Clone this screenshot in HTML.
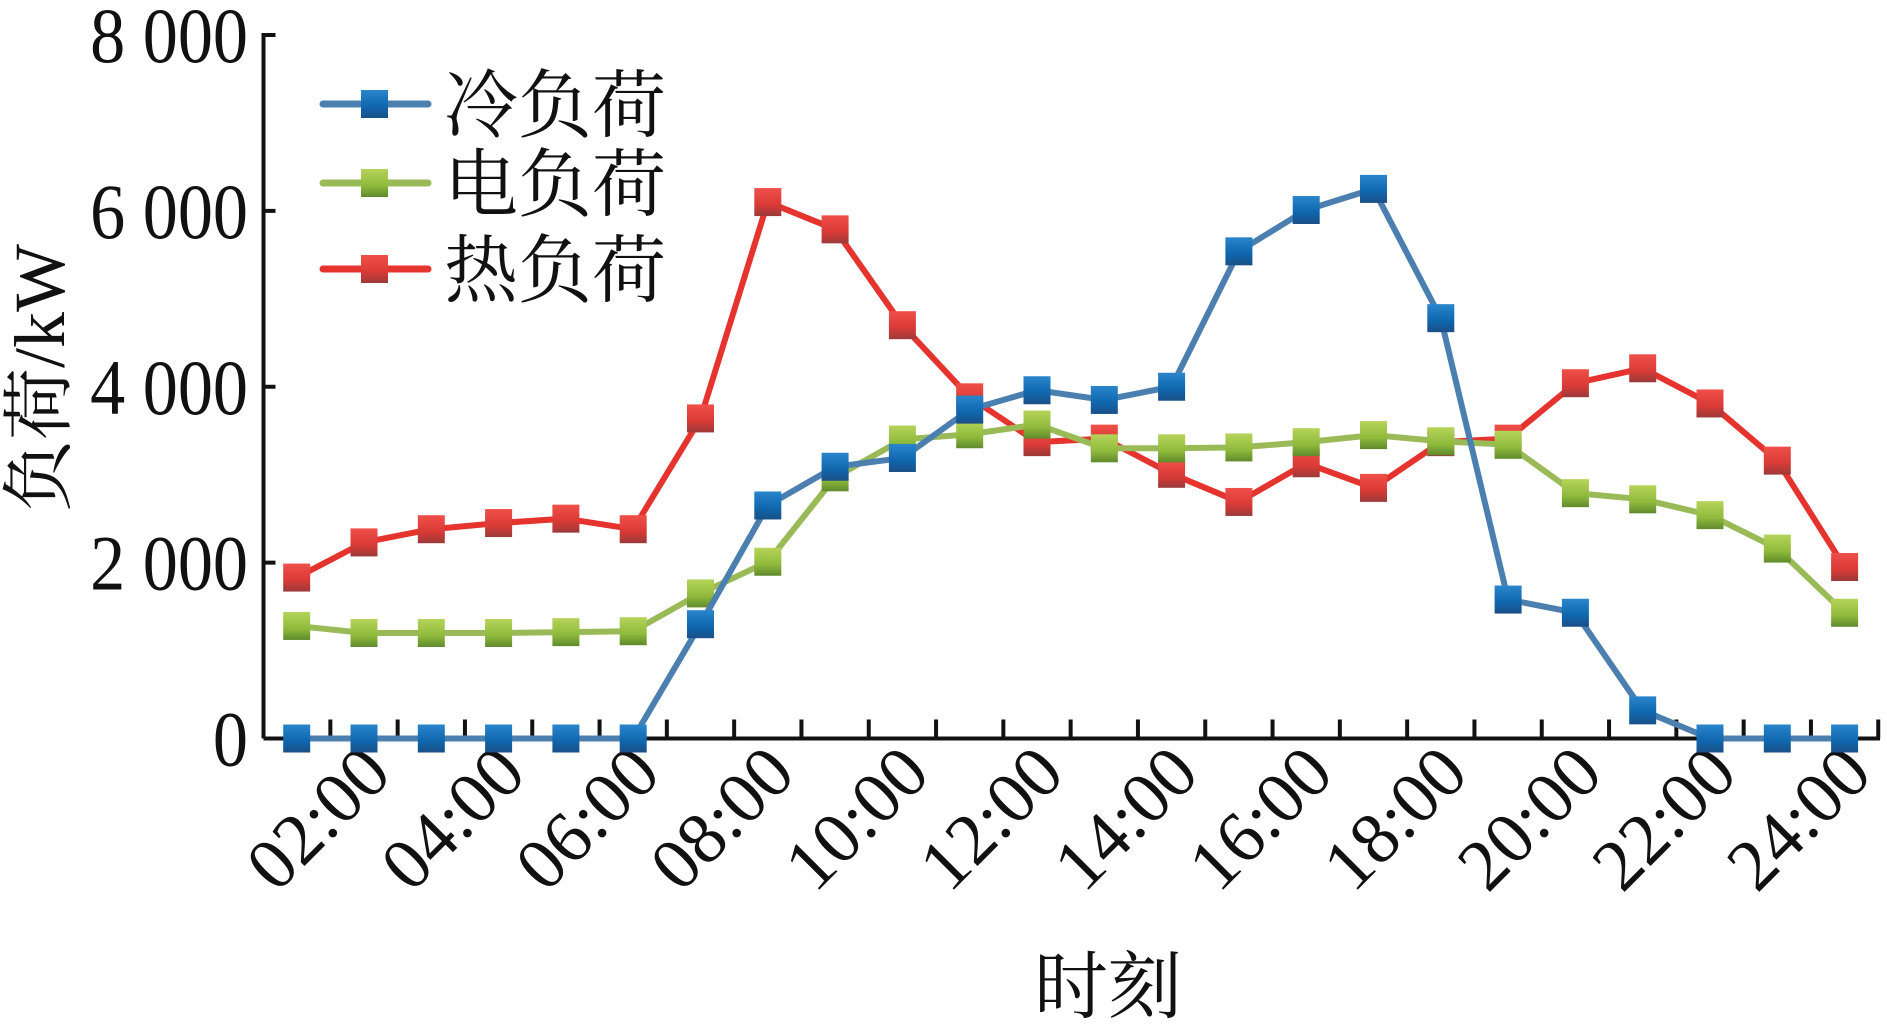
<!DOCTYPE html>
<html><head><meta charset="utf-8">
<style>
html,body{margin:0;padding:0;background:#fff;}
svg{display:block;}
</style></head>
<body>
<svg id="chart" width="1887" height="1027" viewBox="0 0 1887 1027" xmlns="http://www.w3.org/2000/svg">
<defs>
<linearGradient id="gBlue" x1="0" y1="0" x2="0" y2="1">
<stop offset="0" stop-color="#2a86cc"/><stop offset="0.6" stop-color="#0f66ad"/><stop offset="1" stop-color="#1a4f86"/></linearGradient>
<linearGradient id="gGreen" x1="0" y1="0" x2="0" y2="1">
<stop offset="0" stop-color="#b5d45a"/><stop offset="0.6" stop-color="#8fba3c"/><stop offset="1" stop-color="#5f8a2c"/></linearGradient>
<linearGradient id="gRed" x1="0" y1="0" x2="0" y2="1">
<stop offset="0" stop-color="#f0504a"/><stop offset="0.6" stop-color="#d93a35"/><stop offset="1" stop-color="#9a3a3a"/></linearGradient>
</defs>
<g id="axes"></g>
<g id="series"></g>
<g id="legend"></g>
</svg>
<script>
const hours = [1,2,3,4,5,6,7,8,9,10,11,12,13,14,15,16,17,18,19,20,21,22,23,24];
const xTickLabels = ["02:00","04:00","06:00","08:00","10:00","12:00","14:00","16:00","18:00","20:00","22:00","24:00"];
const yTicks = [0,2000,4000,6000,8000];
const yTickLabels = ["0","2 000","4 000","6 000","8 000"];
const coldLoad = [0,0,0,0,0,0,1300,2650,3090,3190,3740,3960,3850,4000,5540,6010,6250,4780,1580,1430,320,0,0,0];
const elecLoad = [1280,1200,1200,1200,1210,1220,1650,2010,2970,3400,3460,3570,3300,3300,3310,3370,3450,3380,3340,2790,2720,2540,2160,1430];
const heatLoad = [1830,2230,2380,2450,2500,2380,3640,6100,5790,4700,3880,3370,3410,3010,2690,3130,2850,3370,3410,4040,4210,3810,3160,1950];
const seriesNames = ["冷负荷","电负荷","热负荷"];

const NS = "http://www.w3.org/2000/svg";
const X0 = 263.5, Y0 = 738.5, Ytop = 35, XEND = 1880;
const step = 67.3, firstX = 296.7;
function xScale(h){ return firstX + (h-1)*step; }
function yScale(v){ return Y0 - v/8000*(Y0-Ytop); }
function mk(tag, attrs, parent){ const e=document.createElementNS(NS,tag); for(const k in attrs) e.setAttribute(k,attrs[k]); parent.appendChild(e); return e; }
const SERIF='"Liberation Serif","Noto Serif CJK SC", serif';

const axes = document.getElementById('axes');
const yAxis = mk('path',{d:`M${X0+12},${Ytop} H${X0} V${Y0}`,stroke:'#111','stroke-width':4,fill:'none'},axes);


const xAxis = mk('line',{x1:X0,y1:Y0,x2:XEND,y2:Y0,stroke:'#111','stroke-width':4},axes);


yTicks.forEach((v,i)=>{
  const y=yScale(v);
  if(v>0){ const t=mk('line',{x1:X0,y1:y,x2:X0+12,y2:y,stroke:'#111','stroke-width':4},axes);
    
     }
  const tx=mk('text',{x:0,y:0,'text-anchor':'end','font-family':SERIF,'font-size':78,fill:'#111',transform:`translate(248 ${y+27}) scale(0.9 1)`},axes);
  tx.textContent=yTickLabels[i];
  
  
});
hours.forEach(h=>{
  const x=xScale(h)+step/2;
  const t=mk('line',{x1:x,y1:Y0,x2:x,y2:Y0-19,stroke:'#111','stroke-width':4},axes);
  
  
});
xTickLabels.forEach((lab,i)=>{
  const x=xScale((i+1)*2)+30, y=Y0+38;
  const tx=mk('text',{x:x,y:y,'text-anchor':'end','font-family':SERIF,'font-size':73,fill:'#111',transform:`rotate(-45 ${x} ${y})`},axes);
  tx.textContent=lab;
  
  
});
const yt=mk('text',{x:0,y:0,'text-anchor':'middle','font-family':SERIF,'font-size':72,fill:'#111',transform:'translate(64 378) rotate(-90)'},axes);
yt.textContent='负荷/kW';


const xt=mk('text',{x:1108,y:1012,'text-anchor':'middle','font-family':SERIF,'font-size':74,fill:'#111'},axes);
xt.textContent='时刻';



const seriesG=document.getElementById('series');
const defs=[{data:coldLoad,line:'#4a7fb0',fill:'url(#gBlue)',name:'cold'},{data:elecLoad,line:'#9aba58',fill:'url(#gGreen)',name:'elec'},{data:heatLoad,line:'#e5332e',fill:'url(#gRed)',name:'heat'}];
[2,1,0].forEach(si=>{
  const s=defs[si];
  const pts=s.data.map((v,i)=>xScale(hours[i])+','+yScale(v)).join(' ');
  const pl=mk('polyline',{points:pts,fill:'none',stroke:s.line,'stroke-width':6,'stroke-linejoin':'round'},seriesG);
  
  
  s.data.forEach((v,i)=>{
    const r=mk('rect',{x:xScale(hours[i])-13.5,y:yScale(v)-14,width:27,height:28,fill:s.fill},seriesG);
    
    
  });
});

const lg=document.getElementById('legend');
const ly=[104,183,269];
[0,1,2].forEach(i=>{
  const s=defs[i];
  const l=mk('line',{x1:323,y1:ly[i],x2:428,y2:ly[i],stroke:s.line,'stroke-width':7,'stroke-linecap':'round'},lg);
  
  
  const r=mk('rect',{x:361,y:ly[i]-14,width:27,height:28,fill:s.fill},lg);
  
  
  const t=mk('text',{x:444,y:ly[i]+27,'font-family':SERIF,'font-size':74,fill:'#111'},lg);
  t.textContent=seriesNames[i];
  
  
});
</script>
</body></html>
